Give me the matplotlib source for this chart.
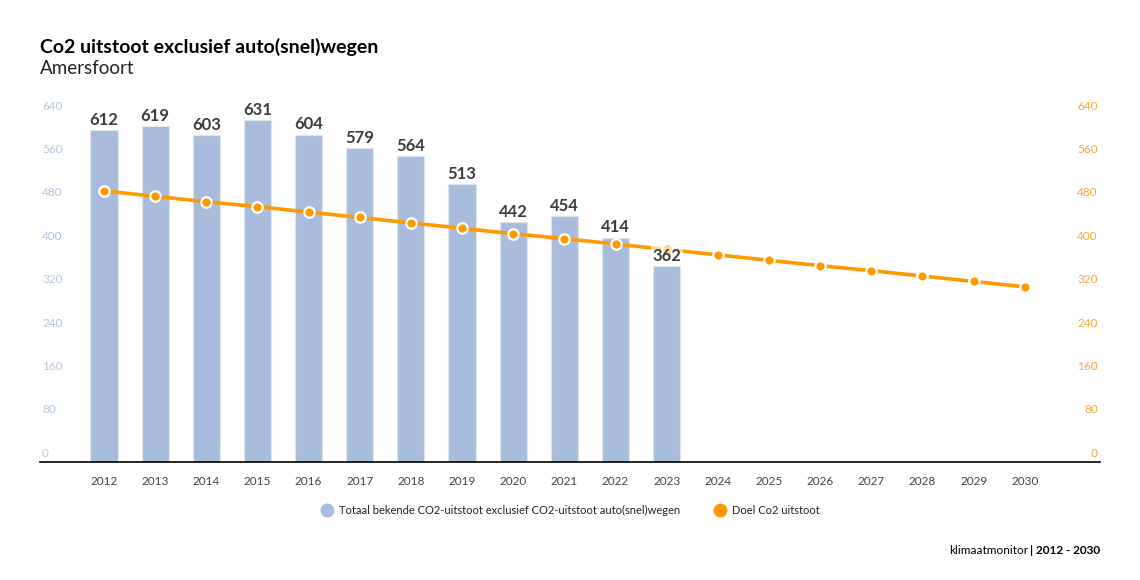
import numpy as np
import matplotlib
matplotlib.use("Agg")
import matplotlib.pyplot as plt
import matplotlib.transforms as mtransforms
from matplotlib.lines import Line2D

plt.rcParams['font.family'] = ['Lato', 'DejaVu Sans']

# data
years = list(range(2012, 2031))
bar_years = list(range(2012, 2024))
bar_values = [612, 619, 603, 631, 604, 579, 564, 513, 442, 454, 414, 362]
target_values = [500, 490, 480, 471, 461, 451, 441, 431, 421, 412,
                 402, 392, 382, 372, 362, 353, 343, 333, 323]
y_ticks = [0, 80, 160, 240, 320, 400, 480, 560, 640]

BAR_COLOR = '#a8bddb'
ORANGE = '#ff9900'
TEXT_DARK = '#3d3d3d'

fig = plt.figure(figsize=(11.4, 5.8), dpi=100)
fig.patch.set_facecolor('white')
ax = fig.add_axes([40 / 1140, 1 - 462 / 580, 1060 / 1140, 347 / 580])

ax.bar(bar_years, bar_values, width=0.53, color=BAR_COLOR,
       edgecolor='#dfe7f2', linewidth=0.8, zorder=2)
ax.plot(years, target_values, color=ORANGE, lw=2.6, zorder=3,
        marker='o', markersize=7.5, markerfacecolor=ORANGE,
        markeredgecolor='white', markeredgewidth=1.6)

for x, v in zip(bar_years, bar_values):
    ax.text(x, v + 4, str(v), ha='center', va='bottom', fontsize=12,
            fontweight='bold', color=TEXT_DARK, zorder=4,
            bbox=dict(boxstyle='square,pad=0.1', fc='white', ec='none', alpha=0.6))

ax.set_xlim(2010.75, 2031.47)
ax.set_ylim(0, 640)
ax.set_xticks(years)
ax.set_xticklabels([str(y) for y in years], fontsize=8.5, color='#444444')
ax.tick_params(axis='x', length=0, pad=10)
ax.set_yticks([])
for s in ['top', 'left', 'right']:
    ax.spines[s].set_visible(False)
ax.spines['bottom'].set_color('black')
ax.spines['bottom'].set_linewidth(1.2)

# y labels sit just above their value, inside the plot area
trans = mtransforms.blended_transform_factory(ax.transAxes, ax.transData)
for t in y_ticks:
    ax.text(0.002, t + 6, str(t), transform=trans, ha='left', va='bottom',
            fontsize=8.5, color='#b4c6e0')
    ax.text(0.998, t + 6, str(t), transform=trans, ha='right', va='bottom',
            fontsize=8.5, color='#ffa532')

fig.text(40 / 1140, 1 - 47 / 580, 'Co2 uitstoot exclusief auto(snel)wegen',
         fontsize=14, fontweight='bold', color='black', va='center')
fig.text(40 / 1140, 1 - 69 / 580, 'Amersfoort', fontsize=13.5,
         color='#222222', va='center')

handles = [
    Line2D([], [], marker='o', ls='none', markersize=9, color=BAR_COLOR),
    Line2D([], [], marker='o', ls='none', markersize=9, color=ORANGE),
]
labels = ['Totaal bekende CO2-uitstoot exclusief CO2-uitstoot auto(snel)wegen',
          'Doel Co2 uitstoot']
fig.legend(handles, labels, loc='center', bbox_to_anchor=(568 / 1140, 1 - 510 / 580),
           ncol=2, frameon=False, fontsize=8, handletextpad=0.1,
           columnspacing=2.6, labelcolor='#222222')

foot = fig.text(1100 / 1140, 1 - 551 / 580, '| 2012 - 2030', fontsize=8.5,
                fontweight='bold', ha='right', va='center', color='black')
fig.canvas.draw()
bb = foot.get_window_extent()
fig.text((bb.x0 - 2) / 1140, 1 - 551 / 580, 'klimaatmonitor', fontsize=8.5,
         ha='right', va='center', color='black')

fig.savefig('out.png', dpi=100, facecolor='white')
